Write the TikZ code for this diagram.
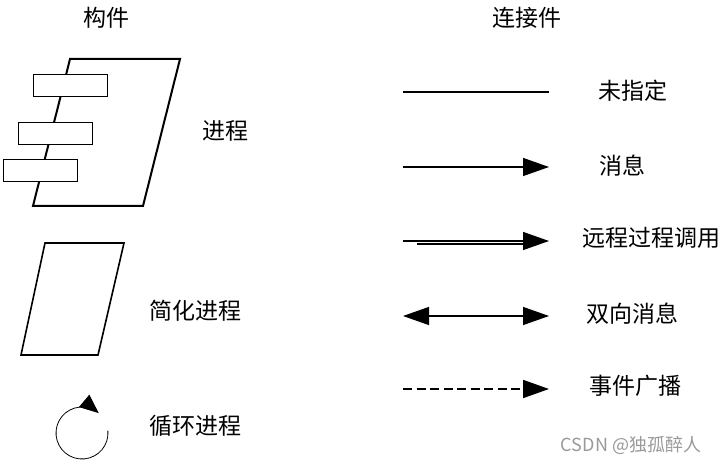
\documentclass[tikz,border=0pt]{standalone}
\usepackage{fontspec}
\newfontfamily\cjk{Noto Sans CJK SC}
\usetikzlibrary{arrows.meta,positioning}

\tikzset{
    block/.style={draw, fill=white, line width=0.9pt, minimum width=74pt, minimum height=22pt},
    conn/.style={line width=1.4pt},
    msg/.style={conn, -{Triangle[length=26pt,width=18pt]}},
    bimsg/.style={conn, {Triangle[length=26pt,width=18pt]}-{Triangle[length=26pt,width=18pt]}}
}

\begin{document}
\begin{tikzpicture}[x=1pt, y=-1pt, every node/.style={font=\cjk\fontsize{23}{23}\selectfont, inner sep=0pt}]
    \useasboundingbox (0,0) rectangle (725,462);

    % Column headers
    \node (hpart) at (106,18) {构件};
    \node (hconn) at (527,18) {连接件};

    % Process (parallelogram with three blocks)
    \draw[line width=2pt] (70,59) -- (180,59) -- (143,206) -- (33,206) -- cycle;
    \foreach \n/\x/\y in {1/70/85, 2/55/133, 3/40/170} {
        \node[block] (blk\n) at (\x,\y) {};
    }
    \node (lproc) at (225,131) {进程};

    % Simplified process
    \draw[line width=1.6pt] (45,243) -- (124,243) -- (98,355) -- (21,355) -- cycle;
    \node (lsimp) at (195,311) {简化进程};

    % Loop process
    \coordinate (loopc) at (82,433);
    \draw[line width=0.8pt, -{Triangle[length=19pt,width=16pt]}] (loopc) ++(5:26pt) arc[start angle=5, end angle=-310, radius=26pt];
    \node (lloop) at (195,426) {循环进程};

    % Connectors: unspecified
    \coordinate (u1) at (403,92);
    \coordinate (u2) at (549,92);
    \draw[conn] (u1) -- (u2);
    \node (lunsp) at (633,91) {未指定};

    % message
    \coordinate (m1) at (403,167);
    \coordinate (m2) at (549,167);
    \draw[msg] (m1) -- (m2);
    \node (lmsg) at (622,166) {消息};

    % remote procedure call (double shaft)
    \coordinate (r1) at (403,241);
    \coordinate (r2) at (549,241);
    \coordinate (r3) at (417,244);
    \coordinate (r4) at (525,244);
    \draw[msg] (r1) -- (r2);
    \draw[line width=2pt] (r3) -- (r4);
    \node (lrpc) at (651,238) {远程过程调用};

    % two-way message
    \coordinate (b1) at (403,316);
    \coordinate (b2) at (549,316);
    \draw[bimsg] (b1) -- (b2);
    \node (lbi) at (632,314) {双向消息};

    % event broadcast
    \coordinate (e1) at (403,389);
    \coordinate (e2) at (549,389);
    \draw[msg, line width=1.8pt, dash pattern=on 9pt off 4.5pt] (e1) -- (e2);
    \node (levt) at (635,386) {事件广播};

    % watermark
    \node[font=\cjk\fontsize{18}{18}\selectfont, text=black!40] (wm) at (631,445) {CSDN @独孤醉人};
\end{tikzpicture}
\end{document}
